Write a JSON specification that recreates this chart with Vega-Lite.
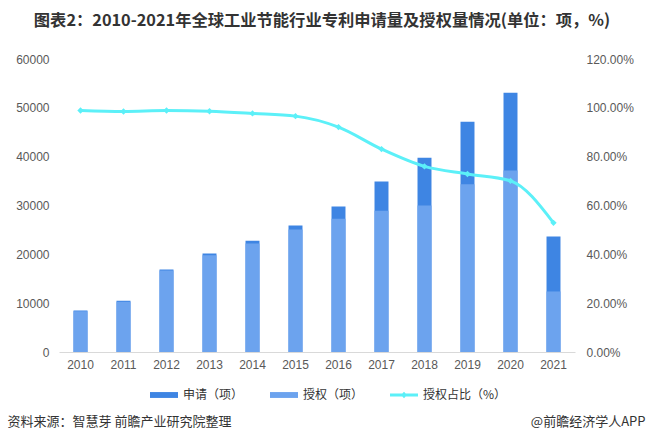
{
  "$schema": "https://vega.github.io/schema/vega-lite/v6.json",
  "autosize": "none",
  "width": 516,
  "height": 293,
  "padding": {"left": 59, "top": 59, "right": 71, "bottom": 91},
  "background": "white",
  "title": {
    "text": "图表2：2010-2021年全球工业节能行业专利申请量及授权量情况(单位：项，%)",
    "font": "Noto Sans CJK SC",
    "fontSize": 16.3,
    "fontWeight": "bold",
    "color": "#333333",
    "anchor": "middle",
    "dx": 5,
    "offset": 24
  },
  "data": {
    "values": [
      {"year": "2010", "apply": 8500, "grant": 8350, "ratio": 0.989},
      {"year": "2011", "apply": 10500, "grant": 10300, "ratio": 0.985},
      {"year": "2012", "apply": 16900, "grant": 16700, "ratio": 0.989},
      {"year": "2013", "apply": 20150, "grant": 19800, "ratio": 0.986},
      {"year": "2014", "apply": 22800, "grant": 22200, "ratio": 0.977},
      {"year": "2015", "apply": 25900, "grant": 25100, "ratio": 0.966},
      {"year": "2016", "apply": 29800, "grant": 27300, "ratio": 0.921},
      {"year": "2017", "apply": 34900, "grant": 28950, "ratio": 0.831},
      {"year": "2018", "apply": 39800, "grant": 30000, "ratio": 0.760},
      {"year": "2019", "apply": 47150, "grant": 34350, "ratio": 0.729},
      {"year": "2020", "apply": 53100, "grant": 37150, "ratio": 0.701},
      {"year": "2021", "apply": 23650, "grant": 12400, "ratio": 0.529}
    ]
  },
  "encoding": {
    "x": {
      "field": "year",
      "type": "nominal",
      "scale": {"paddingInner": 0.675, "paddingOuter": 0.3375},
      "axis": {
        "labelAngle": 0,
        "labelPadding": 7,
        "ticks": false,
        "domainColor": "#d9d9d9",
        "title": "资料来源：智慧芽 前瞻产业研究院整理",
        "titleX": -52,
        "titleY": 69,
        "titleAlign": "left",
        "titleBaseline": "middle",
        "titleFontSize": 13,
        "titleFontWeight": "normal",
        "titleColor": "#333333"
      }
    },
    "color": {
      "type": "nominal",
      "scale": {
        "domain": ["申请（项）", "授权（项）", "授权占比（%）"],
        "range": ["#3e85e3", "#6ca3ee", "#5cf0f8"]
      },
      "legend": {
        "orient": "none",
        "direction": "horizontal",
        "legendX": 91,
        "legendY": 322,
        "title": null,
        "symbolSize": 784,
        "labelFontSize": 12,
        "labelColor": "#333333",
        "labelOffset": 5,
        "columnPadding": 26,
        "encode": {
          "symbols": {
            "update": {
              "shape": {"signal": "datum.value === '授权占比（%）' ? 'M-1,-0.1H1V0.1H-1Z M0,-0.24L0.22,0L0,0.24L-0.22,0Z' : 'M-1,-0.21H1V0.21H-1Z'"},
              "fill": {"scale": "color", "field": "value"},
              "strokeWidth": {"value": 0},
              "opacity": {"value": 1}
            }
          }
        }
      }
    }
  },
  "layer": [
    {
      "encoding": {
        "y": {
          "type": "quantitative",
          "scale": {"domain": [0, 60000]},
          "axis": {
            "values": [0, 10000, 20000, 30000, 40000, 50000, 60000],
            "format": "d",
            "title": null,
            "labelPadding": 10
          }
        }
      },
      "layer": [
        {
          "mark": {"type": "bar"},
          "encoding": {
            "y": {"field": "apply"},
            "color": {"datum": "申请（项）"}
          }
        },
        {
          "mark": {"type": "bar"},
          "encoding": {
            "y": {"field": "grant"},
            "color": {"datum": "授权（项）"}
          }
        }
      ]
    },
    {
      "mark": {
        "type": "line",
        "interpolate": "monotone",
        "strokeWidth": 3,
        "point": {"shape": "diamond", "size": 40, "filled": true}
      },
      "encoding": {
        "y": {
          "field": "ratio",
          "type": "quantitative",
          "scale": {"domain": [0, 1.2]},
          "axis": {
            "orient": "right",
            "values": [0, 0.2, 0.4, 0.6, 0.8, 1.0, 1.2],
            "format": ".2%",
            "labelPadding": 11,
            "title": "@前瞻经济学人APP",
            "titleAngle": 0,
            "titleAlign": "right",
            "titleBaseline": "middle",
            "titleX": 70,
            "titleY": 362,
            "titleFontSize": 13,
            "titleFontWeight": "normal",
            "titleColor": "#333333"
          }
        },
        "color": {"datum": "授权占比（%）"}
      }
    }
  ],
  "resolve": {"scale": {"y": "independent"}},
  "config": {
    "font": "Noto Sans CJK SC",
    "view": {"stroke": null},
    "axis": {
      "labelFontSize": 12,
      "labelColor": "#595959",
      "labelFont": "Liberation Sans",
      "grid": false,
      "ticks": false
    },
    "axisY": {"domain": false},
    "legend": {"labelFont": "Noto Sans CJK SC"}
  }
}
